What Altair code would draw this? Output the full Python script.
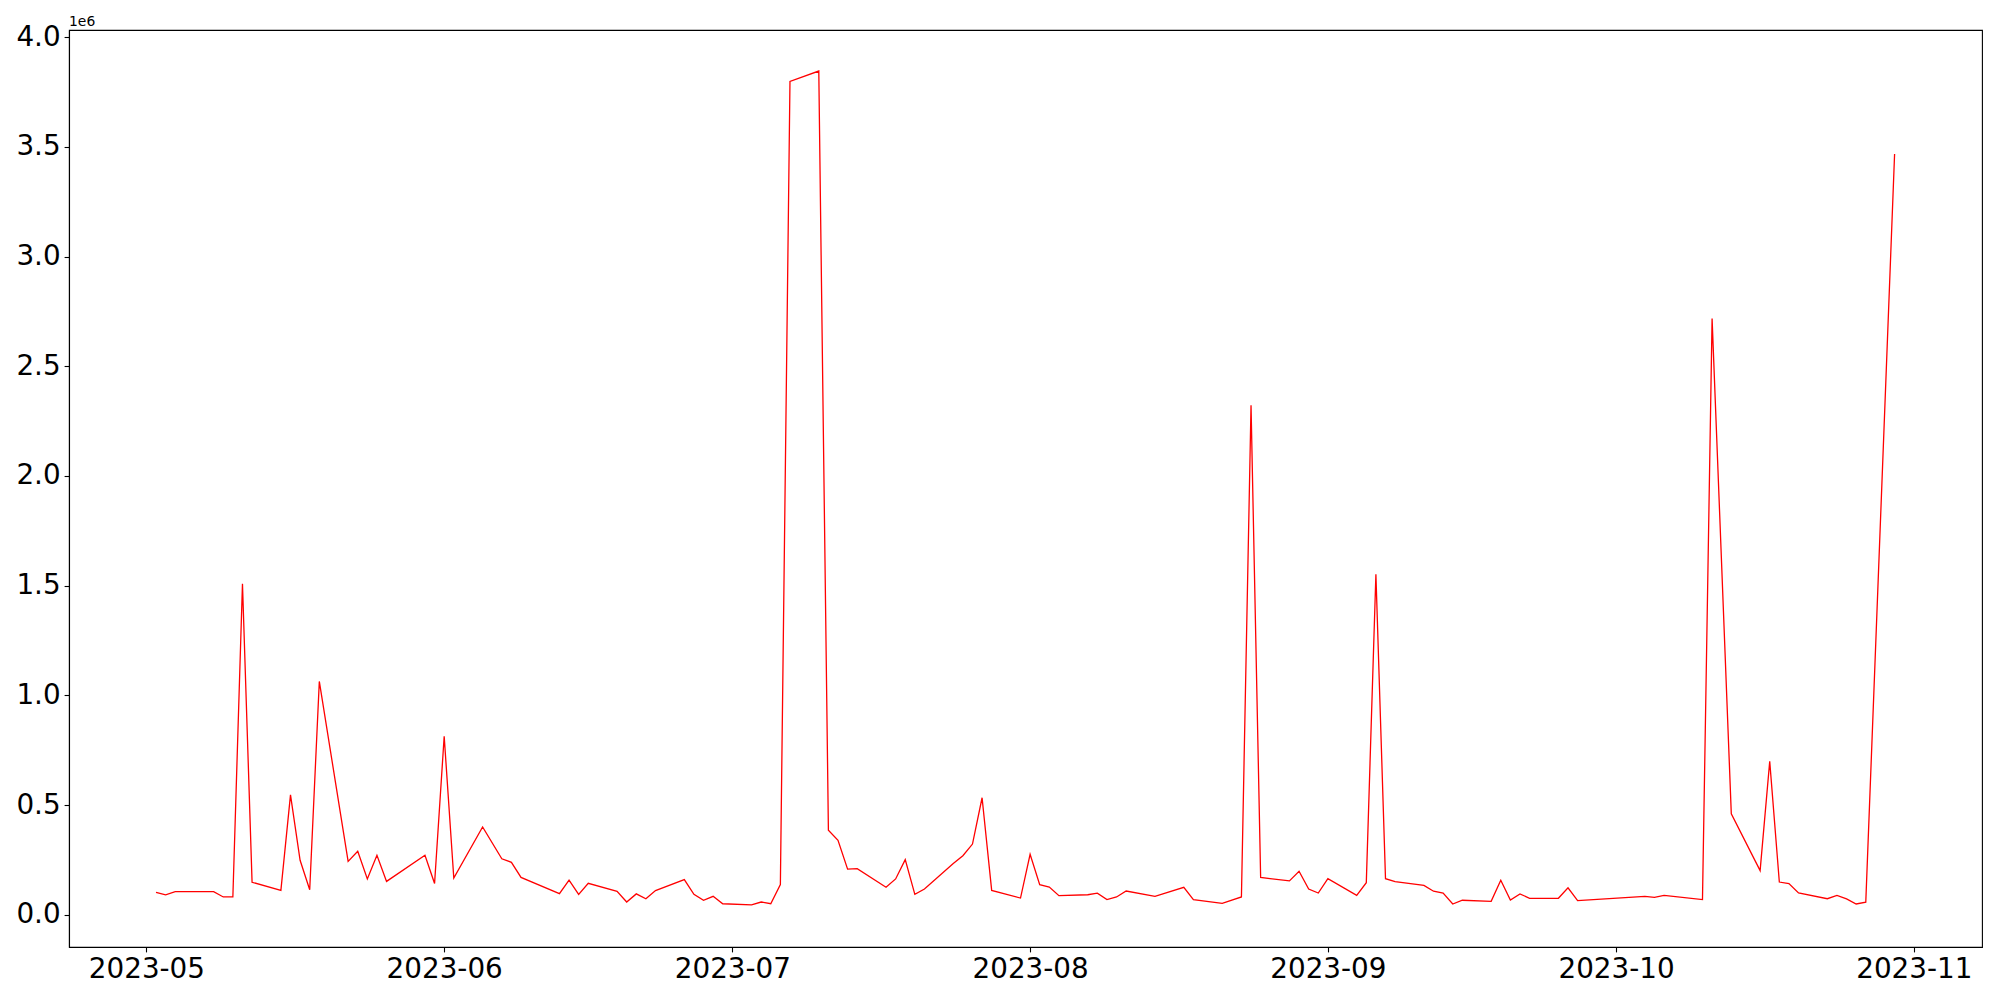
import altair as alt
import pandas as pd

dates = [
    "2023-05-02", "2023-05-03", "2023-05-04", "2023-05-08", "2023-05-09", "2023-05-10",
    "2023-05-11", "2023-05-12", "2023-05-15", "2023-05-16", "2023-05-17", "2023-05-18",
    "2023-05-19", "2023-05-22", "2023-05-23", "2023-05-24", "2023-05-25", "2023-05-26",
    "2023-05-30", "2023-05-31", "2023-06-01", "2023-06-02", "2023-06-05", "2023-06-07",
    "2023-06-08", "2023-06-09", "2023-06-13", "2023-06-14", "2023-06-15", "2023-06-16",
    "2023-06-19", "2023-06-20", "2023-06-21", "2023-06-22", "2023-06-23", "2023-06-26",
    "2023-06-27", "2023-06-28", "2023-06-29", "2023-06-30", "2023-07-03", "2023-07-04",
    "2023-07-05", "2023-07-06", "2023-07-07", "2023-07-10", "2023-07-11", "2023-07-12",
    "2023-07-13", "2023-07-14", "2023-07-17", "2023-07-18", "2023-07-19", "2023-07-20",
    "2023-07-21", "2023-07-24", "2023-07-25", "2023-07-26", "2023-07-27", "2023-07-28",
    "2023-07-31", "2023-08-01", "2023-08-02", "2023-08-03", "2023-08-04", "2023-08-07",
    "2023-08-08", "2023-08-09", "2023-08-10", "2023-08-11", "2023-08-14", "2023-08-17",
    "2023-08-18", "2023-08-21", "2023-08-23", "2023-08-24", "2023-08-25", "2023-08-28",
    "2023-08-29", "2023-08-30", "2023-08-31", "2023-09-01", "2023-09-04", "2023-09-05",
    "2023-09-06", "2023-09-07", "2023-09-08", "2023-09-11", "2023-09-12", "2023-09-13",
    "2023-09-14", "2023-09-15", "2023-09-18", "2023-09-19", "2023-09-20", "2023-09-21",
    "2023-09-22", "2023-09-25", "2023-09-26", "2023-09-27", "2023-10-04", "2023-10-05",
    "2023-10-06", "2023-10-10", "2023-10-11", "2023-10-13", "2023-10-16", "2023-10-17",
    "2023-10-18", "2023-10-19", "2023-10-20", "2023-10-23", "2023-10-24", "2023-10-25",
    "2023-10-26", "2023-10-27", "2023-10-30",
]

values = [
    103000, 92000, 106000, 106000, 82000, 82000,
    1509000, 149000, 112000, 547000, 249000, 115000,
    1064000, 244000, 290000, 164000, 272000, 153000,
    272000, 143000, 814000, 168000, 401000, 256000,
    240000, 171000, 97000, 159000, 94000, 144000,
    108000, 59000, 96000, 74000, 111000, 161000,
    94000, 67000, 85000, 51000, 46000, 59000,
    51000, 138000, 3798000, 3845000, 386000, 340000,
    209000, 211000, 126000, 164000, 252000, 94000,
    118000, 234000, 270000, 323000, 534000, 112000,
    77000, 276000, 138000, 127000, 88000, 92000,
    99000, 70000, 82000, 109000, 85000, 126000,
    70000, 53000, 82000, 2322000, 171000, 155000,
    199000, 118000, 100000, 165000, 89000, 147000,
    1552000, 165000, 152000, 135000, 108000, 100000,
    50000, 67000, 62000, 158000, 68000, 96000,
    76000, 76000, 124000, 65000, 85000, 80000,
    89000, 70000, 2717000, 461000, 202000, 700000,
    150000, 143000, 100000, 74000, 89000, 73000,
    50000, 58000, 3467000,
]

x_ticks = ["2023-05-01", "2023-06-01", "2023-07-01", "2023-08-01",
           "2023-09-01", "2023-10-01", "2023-11-01"]
y_ticks = [0, 500000, 1000000, 1500000, 2000000, 2500000, 3000000, 3500000, 4000000]
offset_label = ["1e6"]

df = pd.DataFrame({"date": dates, "value": values})


def dt(s, h=0, m=0):
    y, mo, d = (int(p) for p in s.split("-"))
    return alt.DateTime(year=y, month=mo, date=d, hours=h, minutes=m, utc=True)


x_domain = [dt("2023-04-22", 22, 34), dt("2023-11-08", 2, 24)]
y_domain = [-146000, 4032000]

FONT = "DejaVu Sans"

line = alt.Chart(df).mark_line(color="#ff0000", strokeWidth=1.3, clip=True).encode(
    x=alt.X(
        "date:T",
        scale=alt.Scale(type="utc", domain=x_domain, nice=False),
        axis=alt.Axis(
            values=[dt(s) for s in x_ticks],
            labelExpr="utcFormat(datum.value, '%Y-%m')",
            title=None,
            grid=False,
            labelFont=FONT,
            labelFontSize=27.8,
            labelColor="black",
            labelPadding=4,
            labelAngle=0,
            labelFlush=False,
            labelOverlap=False,
            tickSize=4.9,
            tickColor="black",
            tickWidth=1.1,
            domainColor="black",
            domainWidth=1.1,
        ),
    ),
    y=alt.Y(
        "value:Q",
        scale=alt.Scale(domain=y_domain, nice=False, zero=False),
        axis=alt.Axis(
            values=y_ticks,
            labelExpr="format(datum.value / 1000000, '.1f')",
            title=None,
            grid=False,
            labelFont=FONT,
            labelFontSize=27.8,
            labelColor="black",
            labelPadding=4,
            labelFlush=False,
            labelOverlap=False,
            tickSize=4.9,
            tickColor="black",
            tickWidth=1.1,
            domainColor="black",
            domainWidth=1.1,
        ),
    ),
)

offset = alt.Chart(pd.DataFrame({"t": offset_label})).mark_text(
    align="left", baseline="alphabetic", font=FONT, fontSize=13.9, color="black"
).encode(
    x=alt.value(0),
    y=alt.value(-4.5),
    text="t:N",
)

chart = (
    alt.layer(line, offset)
    .properties(
        width=1913,
        height=917,
        autosize=alt.AutoSizeParams(type="none"),
        padding={"left": 61, "top": 22, "right": 10, "bottom": 40},
        background="white",
    )
    .configure_view(stroke="black", strokeWidth=1.1)
)

chart.save("out.html", embed_options={"renderer": "svg", "actions": False})
